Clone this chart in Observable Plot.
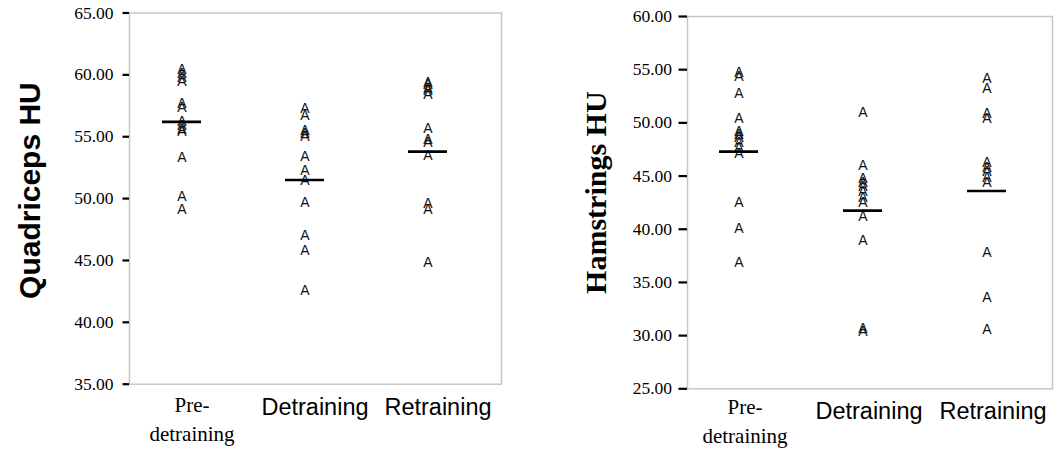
<!DOCTYPE html>
<html><head><meta charset="utf-8">
<script src="https://cdn.jsdelivr.net/npm/d3@7"></script>
<script src="https://cdn.jsdelivr.net/npm/@observablehq/plot@0.6"></script>
<style>
html,body{margin:0;padding:0;background:#fff;}
#wrap{display:flex;width:1058px;height:456px;overflow:hidden;}
#wrap svg{display:block;flex:none;}
</style></head><body><div id="wrap"></div>
<script>
// categories
const phases = ["Pre-detraining", "Detraining", "Retraining"];

// Quadriceps HU (left panel)
const quadPre = [60.4, 60.1, 59.8, 59.5, 57.7, 57.4, 56.2, 55.9, 55.6, 55.4, 53.3, 50.2, 49.1];
const quadDet = [57.3, 56.7, 55.5, 55.3, 55.0, 53.4, 52.3, 51.5, 49.7, 47.0, 45.8, 42.6];
const quadRet = [59.4, 59.2, 58.9, 58.7, 58.4, 55.7, 54.8, 54.5, 53.5, 49.6, 49.1, 44.8];
const quadMeans = [56.2, 51.5, 53.8];

// Hamstrings HU (right panel)
const hamPre = [54.7, 54.4, 52.8, 50.4, 49.2, 48.9, 48.6, 48.2, 47.7, 47.1, 42.5, 40.1, 36.9];
const hamDet = [51.0, 46.0, 44.8, 44.4, 44.0, 43.5, 43.0, 42.5, 41.2, 38.9, 30.7, 30.4];
const hamRet = [54.2, 53.2, 50.9, 50.4, 46.3, 45.8, 45.4, 44.9, 44.4, 37.8, 33.6, 30.6];
const hamMeans = [47.3, 41.75, 43.6];

// tick values
const quadTicks = [35, 40, 45, 50, 55, 60, 65];
const hamTicks = [25, 30, 35, 40, 45, 50, 55, 60];

function rowsOf(groups) {
  const out = [];
  groups.forEach((vals, i) => vals.forEach(v => out.push({phase: phases[i], value: v})));
  return out;
}
function meanRows(means) {
  return means.map((m, i) => ({phase: phases[i], mean: m}));
}

function panel(o) {
  return Plot.plot({
    width: o.width, height: 456,
    marginLeft: o.ml, marginRight: o.mr, marginTop: o.mt, marginBottom: o.mb,
    style: {background: "white", overflow: "visible"},
    x: {type: "band", domain: phases, range: o.xRange, paddingInner: o.pad, paddingOuter: 0, align: 0.5, axis: null},
    y: {domain: o.yDomain, axis: null},
    marks: [
      Plot.frame({stroke: "#c6c6c6", strokeWidth: 1.5}),
      Plot.axisY(o.ticks, {
        tickSize: o.tickSize, text: null,
        color: "#000", strokeWidth: 2.2, label: null
      }),
      Plot.text(o.ticks, {y: d => d, text: d => d.toFixed(2), frameAnchor: "left",
        textAnchor: "end", dx: -(o.tickSize + o.tickPadding),
        fontFamily: "Liberation Serif", fontSize: 17.5, fill: "#000"}),
      Plot.text(o.rows, {x: "phase", y: "value", text: () => "A",
        fontFamily: "Liberation Sans", fontSize: 14, fill: "#111"}),
      Plot.tickY(o.means, {x: "phase", y: "mean", stroke: "#000", strokeWidth: 2.6}),
      Plot.text(["Pre-detraining"], {x: d => d, text: () => "Pre-\ndetraining",
        frameAnchor: "bottom", lineAnchor: "top", dx: o.labelDx, dy: o.preDy,
        fontFamily: "Liberation Serif", fontSize: 21, lineHeight: 1.4, fill: "#000"}),
      Plot.text(["Detraining", "Retraining"], {x: d => d, text: d => d,
        frameAnchor: "bottom", lineAnchor: "top", dx: o.labelDx, dy: o.catDy,
        fontFamily: "Liberation Sans", fontSize: 23.5, fill: "#000"}),
      Plot.text([o.title], {frameAnchor: "left", textAnchor: "middle", rotate: -90, dx: o.titleDx, dy: o.titleDy,
        fontFamily: o.titleFont, fontSize: 30, fontWeight: "bold", fill: "#000"})
    ]
  });
}

const wrap = document.getElementById("wrap");
wrap.appendChild(panel({
  width: 529, ml: 129, mr: 28, mt: 12.5, mb: 72.3,
  xRange: [161.5, 448], pad: 0.6848,
  yDomain: [35, 65], ticks: quadTicks, tickSize: 6.5, tickPadding: 9.5,
  rows: rowsOf([quadPre, quadDet, quadRet]), means: meanRows(quadMeans),
  labelDx: 10, preDy: 7, catDy: 14.6,
  title: "Quadriceps HU", titleFont: "Liberation Sans", titleDx: -99, titleDy: -8
}));
wrap.appendChild(panel({
  width: 529, ml: 158, mr: 6, mt: 16, mb: 67.7,
  xRange: [189.5, 476.5], pad: 0.6855,
  yDomain: [25, 60], ticks: hamTicks, tickSize: 8.5, tickPadding: 7,
  rows: rowsOf([hamPre, hamDet, hamRet]), means: meanRows(hamMeans),
  labelDx: 6, preDy: 4, catDy: 13.4,
  title: "Hamstrings HU", titleFont: "Liberation Serif", titleDx: -91, titleDy: -10
}));
</script>
</body></html>
